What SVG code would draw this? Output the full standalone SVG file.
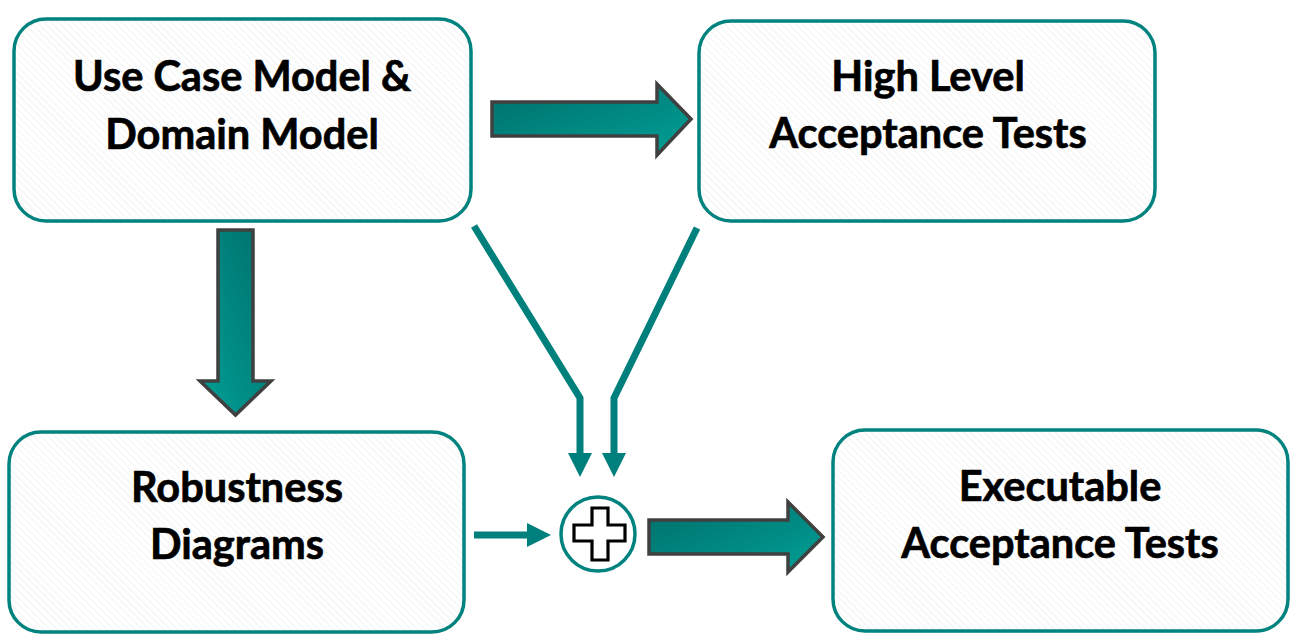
<svg xmlns="http://www.w3.org/2000/svg" width="1300" height="644" viewBox="0 0 1300 644">
<style>
.box{fill:url(#hatch);stroke:#00827e;stroke-width:3.5}
.lbl{font-family:Lato,"Open Sans","Liberation Sans",sans-serif;font-weight:700;font-size:41.5px;fill:#000;stroke:#000;stroke-width:0.7;text-anchor:middle}
.bigarrow{stroke:#404040;stroke-width:3.5;stroke-linejoin:miter}
.conn{fill:none;stroke:#00807c;stroke-width:7}
.head{fill:#00807c}
</style>
<defs>
<pattern id="hatch" patternUnits="userSpaceOnUse" width="5" height="5" patternTransform="rotate(-45)">
<rect width="5" height="5" fill="#ffffff"/>
<line x1="0" y1="0" x2="0" y2="5" stroke="#ececec" stroke-width="1.2"/>
</pattern>
<linearGradient id="gh" x1="0" y1="0" x2="1" y2="1">
<stop offset="0" stop-color="#006e6a"/>
<stop offset="1" stop-color="#00a097"/>
</linearGradient>
<linearGradient id="gv" x1="1" y1="0" x2="0" y2="1">
<stop offset="0" stop-color="#006e6a"/>
<stop offset="1" stop-color="#00a097"/>
</linearGradient>
</defs>
<rect width="1300" height="644" fill="#ffffff"/>

<g id="node-usecase">
<rect class="box" x="14" y="19" width="457" height="202" rx="32"/>
<text class="lbl" x="242" y="91">Use Case Model &amp;</text>
<text class="lbl" x="242" y="149">Domain Model</text>
</g>
<g id="node-highlevel">
<rect class="box" x="699" y="21" width="456" height="200" rx="32"/>
<text class="lbl" x="928" y="91">High Level</text>
<text class="lbl" x="928" y="148">Acceptance Tests</text>
</g>
<g id="node-robustness">
<rect class="box" x="9" y="432" width="455" height="200" rx="32"/>
<text class="lbl" x="237" y="502">Robustness</text>
<text class="lbl" x="237" y="559">Diagrams</text>
</g>
<g id="node-executable">
<rect class="box" x="833" y="430" width="455" height="201" rx="32"/>
<text class="lbl" x="1060" y="501">Executable</text>
<text class="lbl" x="1060" y="558">Acceptance Tests</text>
</g>
<g id="node-combine">
<circle cx="598" cy="534" r="37" fill="#ffffff" stroke="#00827e" stroke-width="3.5"/>
<path d="M592,508 H608 V525 H625 V541 H608 V560 H592 V541 H574 V525 H592 Z" fill="#ffffff" stroke="#000" stroke-width="3.2"/>
</g>

<g id="connectors">
<path class="bigarrow" fill="url(#gh)" d="M492,102 H657 V84 L691,119 L657,155 V136 H492 Z"/>
<path class="bigarrow" fill="url(#gv)" d="M218,230 H253 V381 H271 L235.5,415 L200,381 H218 Z"/>
<path class="bigarrow" fill="url(#gh)" d="M649,520 H788 V502 L823,537 L788,572 V554 H649 Z"/>
<path class="conn" d="M474,226 L580,398 V455"/>
<path class="head" d="M568,453 H592 L580,477 Z"/>
<path class="conn" d="M697,228 L614,398 V455"/>
<path class="head" d="M602,453 H626 L614,477 Z"/>
<path class="conn" d="M474,535 H530"/>
<path class="head" d="M527,523 L551,535 L527,547 Z"/>
</g>
</svg>
